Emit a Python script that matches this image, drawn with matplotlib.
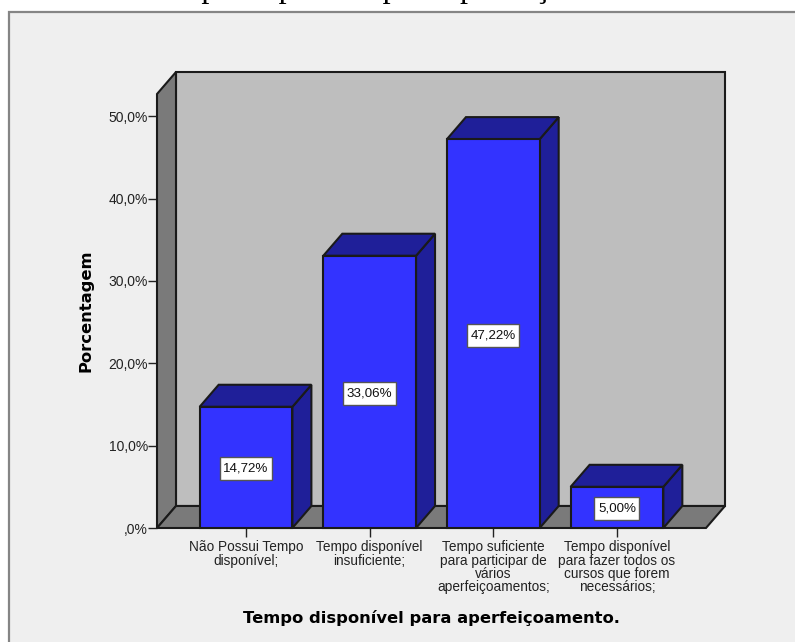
import matplotlib
matplotlib.use("Agg")
import matplotlib.pyplot as plt
from matplotlib.patches import Polygon, Rectangle
from matplotlib.path import Path

categorias = [
    "Não Possui Tempo\ndisponível;",
    "Tempo disponível\ninsuficiente;",
    "Tempo suficiente\npara participar de\nvários\naperfeiçoamentos;",
    "Tempo disponível\npara fazer todos os\ncursos que forem\nnecessários;",
]
valores = [14.72, 33.06, 47.22, 5.00]
rotulos = ["14,72%", "33,06%", "47,22%", "5,00%"]
yticks = [0, 10, 20, 30, 40, 50]
yticklabels = [",0%", "10,0%", "20,0%", "30,0%", "40,0%", "50,0%"]

W, H = 795, 642
plt.rcParams["font.family"] = ["Liberation Sans", "DejaVu Sans"]

# cores
fundo = "#efefef"
parede = "#bebebe"
lateral = "#7a7a7a"
azul = "#3333ff"
azul_esc = "#1f1f99"
linha = "#1a1a1a"
lw = 1.5

fig = plt.figure(figsize=(W / 100, H / 100), dpi=100, facecolor="white")
fig.add_artist(Rectangle((9 / W, -0.01), 1.02, (H - 12) / H + 0.01, transform=fig.transFigure,
                         facecolor=fundo, edgecolor="#858585", linewidth=1.6, zorder=-1))

# texto cortado no topo da imagem
fig.text(145 / W, (H + 2.5) / H, "Tempo disponível para aperfeiçoamento", family="Liberation Serif",
         fontsize=23, color="black", ha="left", va="baseline")

ax = fig.add_axes([157 / W, (H - 528) / H, (706 - 157) / W, (528 - 94) / H])
ax.set_xlim(-0.72, 3.72)
ax.set_ylim(0, 52.7)
ax.patch.set_visible(False)

# profundidade do 3D em unidades dos eixos
dx = 19 / 123.7
dy = 22 / 8.23
x0, x1 = ax.get_xlim()
y1 = ax.get_ylim()[1]
larg = 0.375


def face(pontos, cor, z=2):
    ax.add_patch(Polygon(pontos, closed=True, facecolor=cor, edgecolor=linha, linewidth=lw,
                         clip_on=False, zorder=z, joinstyle="miter"))


def caixa(x, y, w, h, mutation_size):
    # caixa do rotulo: justa na largura, folgada na altura
    px, py = 3.5, 5.5
    return Path([(x - px, y - py), (x + w + px, y - py), (x + w + px, y + h + py),
                 (x - px, y + h + py), (x - px, y - py)], closed=True)


face([(x0 + dx, dy), (x1 + dx, dy), (x1 + dx, y1 + dy), (x0 + dx, y1 + dy)], parede)
face([(x0, 0), (x0 + dx, dy), (x0 + dx, y1 + dy), (x0, y1)], lateral)
face([(x0, 0), (x1, 0), (x1 + dx, dy), (x0 + dx, dy)], lateral)

for i, v in enumerate(valores):
    esq, dir_ = i - larg, i + larg
    face([(dir_, 0), (dir_ + dx, dy), (dir_ + dx, v + dy), (dir_, v)], azul_esc, 3)
    face([(esq, v), (dir_, v), (dir_ + dx, v + dy), (esq + dx, v + dy)], azul_esc, 3)
    face([(esq, 0), (dir_, 0), (dir_, v), (esq, v)], azul, 3)
    ax.text(i, v / 2, rotulos[i], ha="center", va="center_baseline", fontsize=9.6, color="#111111", zorder=5,
            bbox=dict(boxstyle=caixa, facecolor="white", edgecolor="#555555", linewidth=1))

for lado in ["top", "right", "left", "bottom"]:
    ax.spines[lado].set_visible(False)

ax.set_yticks(yticks)
ax.set_yticklabels(yticklabels, fontsize=10, color="#222222")
ax.set_xticks(range(len(categorias)))
ax.set_xticklabels(categorias, fontsize=9.8, color="#222222", linespacing=0.92)
ax.tick_params(axis="y", length=6.5, width=1, color="#222222", pad=0)
ax.tick_params(axis="x", length=6.5, width=1, color="#222222", pad=2.5)

ax.set_xlabel("Tempo disponível para aperfeiçoamento.", fontsize=11.8, fontweight="bold",
              family="DejaVu Sans", color="black")
ax.xaxis.set_label_coords((431.5 - 157) / (706 - 157), -(618 - 528) / (528 - 94))
ax.xaxis.label.set_va("center")
ax.set_ylabel("Porcentagem", fontsize=11.8, fontweight="bold", family="DejaVu Sans", color="black")
ax.yaxis.set_label_coords((86 - 157) / (706 - 157), (528 - 311) / (528 - 94))
ax.yaxis.label.set_va("center")

fig.savefig("out.png", dpi=100, facecolor="white")
